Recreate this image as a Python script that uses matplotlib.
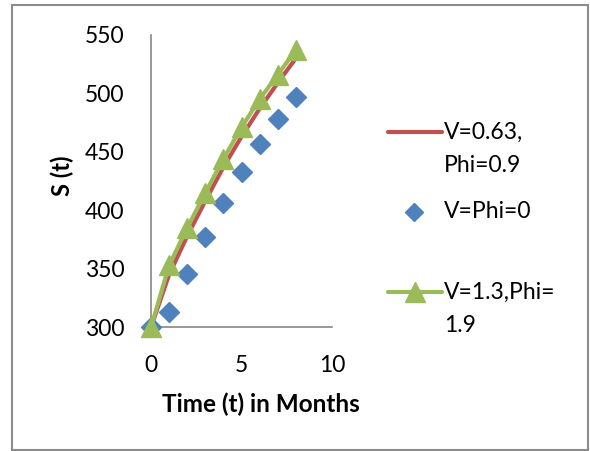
import numpy as np
import matplotlib.pyplot as plt
from matplotlib.lines import Line2D
from matplotlib.patches import Rectangle

# months
t = [0, 1, 2, 3, 4, 5, 6, 7, 8]

# S(t) for the three parameter sets
s_red = [300, 345, 378, 408, 437, 463, 487, 509, 530]
s_blue = [300, 313, 346, 377, 406, 433, 457, 478, 497]
s_green = [300, 353, 385, 415, 444, 471, 495, 516, 537]

labels = [["V=0.63,", "Phi=0.9"], ["V=Phi=0"], ["V=1.3,Phi=", "1.9"]]

red = "#C0504D"
blue = "#4F81BD"
green = "#9BBB59"
axis_grey = "#868686"

plt.rcParams['font.family'] = ['Lato', 'DejaVu Sans']

W, H = 590, 451
fig = plt.figure(figsize=(W / 100, H / 100), dpi=100)

# outer chart frame
fig.add_artist(Rectangle((11.5 / W, 1 - 449.5 / H), 576 / W, 444.5 / H,
                         transform=fig.transFigure, fill=False,
                         edgecolor="#8c8c8c", linewidth=1.5))

ax = fig.add_axes([151 / W, 1 - 327.3 / H, 181 / W, 292.3 / H])
ax.set_xlim(0, 10)
ax.set_ylim(300, 550)

ax.plot(t, s_red, color=red, linewidth=3, zorder=3, clip_on=False)
ax.plot(t, s_blue, linestyle="none", marker="D", markersize=10,
        color=blue, zorder=4, clip_on=False)
ax.plot(t, s_green, color=green, linewidth=3, marker="^", markersize=14,
        zorder=5, clip_on=False)

ax.set_xticks([0, 5, 10])
ax.set_yticks([300, 350, 400, 450, 500, 550])
ax.tick_params(length=0, labelsize=16.5)
ax.tick_params(axis="y", pad=19)
ax.tick_params(axis="x", pad=20)

for side in ["top", "right"]:
    ax.spines[side].set_visible(False)
for side in ["left", "bottom"]:
    ax.spines[side].set_color(axis_grey)
    ax.spines[side].set_linewidth(1.2)

ax.set_xlabel("Time (t) in Months", fontsize=17.5, fontweight="bold")
ax.xaxis.set_label_coords(0.605, -0.222)
ax.set_ylabel("S (t)", fontsize=17, fontweight="bold", va="center")
ax.yaxis.set_label_coords(-0.49, 0.52)

# legend drawn by hand so the key sits on the first text line
key_y = [132, 212, 292]
for i, lines in enumerate(labels):
    y = 1 - key_y[i] / H
    if i == 0:
        fig.add_artist(Line2D([388 / W, 442 / W], [y, y], color=red,
                              linewidth=3, solid_capstyle="round"))
    elif i == 1:
        fig.add_artist(Line2D([414 / W], [y], color=blue, marker="D",
                              markersize=9, linestyle="none"))
    else:
        fig.add_artist(Line2D([388 / W, 442 / W], [y, y], color=green,
                              linewidth=3, solid_capstyle="round"))
        fig.add_artist(Line2D([415 / W], [y], color=green, marker="^",
                              markersize=14, linestyle="none"))
    for j, txt in enumerate(lines):
        fig.text(444 / W, 1 - (key_y[i] + 33 * j) / H, txt, fontsize=16.5,
                 ha="left", va="center")

fig.savefig("out.png", dpi=100)
